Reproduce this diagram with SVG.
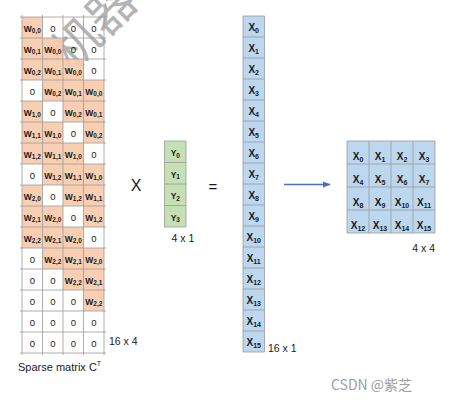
<svg xmlns="http://www.w3.org/2000/svg" width="456" height="405" viewBox="0 0 456 405">
<style>
text{font-family:"Liberation Sans",Arial,sans-serif;fill:#1a1a1a}
.o{fill:#F8CBAD}
.b{fill:#BDD7EE}
.g{fill:#C5E0B4}
.ln{stroke:#9a9a9a;stroke-width:0.8;fill:none}
.w{font-size:8.5px;font-weight:bold;text-anchor:middle}
.z{font-size:9.5px;text-anchor:middle}
.s{font-size:6.5px}
.x{font-size:10px;font-weight:bold;text-anchor:middle}
.xs{font-size:7px}
.lb{font-size:10.5px}
</style>
<rect width="456" height="405" fill="#ffffff"/>
<g id="watermark-top">
<text x="72" y="72" transform="rotate(-45 72 72)" style="font-family:'Noto Sans CJK SC',sans-serif;font-size:48px;fill:#b4b4b4">机器</text>
</g>
<g id="matrix">
<g id="matrix-fill" opacity="0.92">
<rect class="o" x="22" y="17" width="20.5" height="21"/>
<rect class="o" x="22" y="38" width="41" height="21"/>
<rect class="o" x="22" y="59" width="61.5" height="21"/>
<rect class="o" x="42.5" y="80" width="61.5" height="21"/>
<rect class="o" x="22" y="101" width="20.5" height="21"/><rect class="o" x="63" y="101" width="41" height="21"/>
<rect class="o" x="22" y="122" width="41" height="21"/><rect class="o" x="83.5" y="122" width="20.5" height="21"/>
<rect class="o" x="22" y="143" width="61.5" height="21"/>
<rect class="o" x="42.5" y="164" width="61.5" height="21"/>
<rect class="o" x="22" y="185" width="20.5" height="21"/><rect class="o" x="63" y="185" width="41" height="21"/>
<rect class="o" x="22" y="206" width="41" height="21"/><rect class="o" x="83.5" y="206" width="20.5" height="21"/>
<rect class="o" x="22" y="227" width="61.5" height="21"/>
<rect class="o" x="42.5" y="248" width="61.5" height="21"/>
<rect class="o" x="63" y="269" width="41" height="21"/>
<rect class="o" x="83.5" y="290" width="20.5" height="21"/>
</g>
<path class="ln" d="M22 15V355M42.5 15V355M63 15V355M83.5 15V355M104 15V355M20 17H106M20 38H106M20 59H106M20 80H106M20 101H106M20 122H106M20 143H106M20 164H106M20 185H106M20 206H106M20 227H106M20 248H106M20 269H106M20 290H106M20 311H106M20 332H106M20 353H106"/>
<g id="matrix-text">
<text class="w" x="32.3" y="31.5">W<tspan class="s" dy="1.5">0,0</tspan></text><text class="z" x="52.8" y="32">0</text><text class="z" x="73.3" y="32">0</text><text class="z" x="93.8" y="32">0</text>
<text class="w" x="32.3" y="52.5">W<tspan class="s" dy="1.5">0,1</tspan></text><text class="w" x="52.8" y="52.5">W<tspan class="s" dy="1.5">0,0</tspan></text><text class="z" x="73.3" y="53">0</text><text class="z" x="93.8" y="53">0</text>
<text class="w" x="32.3" y="73.5">W<tspan class="s" dy="1.5">0,2</tspan></text><text class="w" x="52.8" y="73.5">W<tspan class="s" dy="1.5">0,1</tspan></text><text class="w" x="73.3" y="73.5">W<tspan class="s" dy="1.5">0,0</tspan></text><text class="z" x="93.8" y="74">0</text>
<text class="z" x="32.3" y="95">0</text><text class="w" x="52.8" y="94.5">W<tspan class="s" dy="1.5">0,2</tspan></text><text class="w" x="73.3" y="94.5">W<tspan class="s" dy="1.5">0,1</tspan></text><text class="w" x="93.8" y="94.5">W<tspan class="s" dy="1.5">0,0</tspan></text>
<text class="w" x="32.3" y="115.5">W<tspan class="s" dy="1.5">1,0</tspan></text><text class="z" x="52.8" y="116">0</text><text class="w" x="73.3" y="115.5">W<tspan class="s" dy="1.5">0,2</tspan></text><text class="w" x="93.8" y="115.5">W<tspan class="s" dy="1.5">0,1</tspan></text>
<text class="w" x="32.3" y="136.5">W<tspan class="s" dy="1.5">1,1</tspan></text><text class="w" x="52.8" y="136.5">W<tspan class="s" dy="1.5">1,0</tspan></text><text class="z" x="73.3" y="137">0</text><text class="w" x="93.8" y="136.5">W<tspan class="s" dy="1.5">0,2</tspan></text>
<text class="w" x="32.3" y="157.5">W<tspan class="s" dy="1.5">1,2</tspan></text><text class="w" x="52.8" y="157.5">W<tspan class="s" dy="1.5">1,1</tspan></text><text class="w" x="73.3" y="157.5">W<tspan class="s" dy="1.5">1,0</tspan></text><text class="z" x="93.8" y="158">0</text>
<text class="z" x="32.3" y="179">0</text><text class="w" x="52.8" y="178.5">W<tspan class="s" dy="1.5">1,2</tspan></text><text class="w" x="73.3" y="178.5">W<tspan class="s" dy="1.5">1,1</tspan></text><text class="w" x="93.8" y="178.5">W<tspan class="s" dy="1.5">1,0</tspan></text>
<text class="w" x="32.3" y="199.5">W<tspan class="s" dy="1.5">2,0</tspan></text><text class="z" x="52.8" y="200">0</text><text class="w" x="73.3" y="199.5">W<tspan class="s" dy="1.5">1,2</tspan></text><text class="w" x="93.8" y="199.5">W<tspan class="s" dy="1.5">1,1</tspan></text>
<text class="w" x="32.3" y="220.5">W<tspan class="s" dy="1.5">2,1</tspan></text><text class="w" x="52.8" y="220.5">W<tspan class="s" dy="1.5">2,0</tspan></text><text class="z" x="73.3" y="221">0</text><text class="w" x="93.8" y="220.5">W<tspan class="s" dy="1.5">1,2</tspan></text>
<text class="w" x="32.3" y="241.5">W<tspan class="s" dy="1.5">2,2</tspan></text><text class="w" x="52.8" y="241.5">W<tspan class="s" dy="1.5">2,1</tspan></text><text class="w" x="73.3" y="241.5">W<tspan class="s" dy="1.5">2,0</tspan></text><text class="z" x="93.8" y="242">0</text>
<text class="z" x="32.3" y="263">0</text><text class="w" x="52.8" y="262.5">W<tspan class="s" dy="1.5">2,2</tspan></text><text class="w" x="73.3" y="262.5">W<tspan class="s" dy="1.5">2,1</tspan></text><text class="w" x="93.8" y="262.5">W<tspan class="s" dy="1.5">2,0</tspan></text>
<text class="z" x="32.3" y="284">0</text><text class="z" x="52.8" y="284">0</text><text class="w" x="73.3" y="283.5">W<tspan class="s" dy="1.5">2,2</tspan></text><text class="w" x="93.8" y="283.5">W<tspan class="s" dy="1.5">2,1</tspan></text>
<text class="z" x="32.3" y="305">0</text><text class="z" x="52.8" y="305">0</text><text class="z" x="73.3" y="305">0</text><text class="w" x="93.8" y="304.5">W<tspan class="s" dy="1.5">2,2</tspan></text>
<text class="z" x="32.3" y="326">0</text><text class="z" x="52.8" y="326">0</text><text class="z" x="73.3" y="326">0</text><text class="z" x="93.8" y="326">0</text>
<text class="z" x="32.3" y="347">0</text><text class="z" x="52.8" y="347">0</text><text class="z" x="73.3" y="347">0</text><text class="z" x="93.8" y="347">0</text>
</g>
<text class="lb" x="109" y="345">16 x 4</text>
<text x="18" y="371" style="font-size:11px">Sparse matrix C<tspan style="font-size:7px" dy="-5">T</tspan></text>
</g>
<g id="times"><text x="136" y="191" style="font-size:16px;text-anchor:middle">X</text></g>
<g id="y-vector">
<rect class="g" x="164.5" y="141" width="21.5" height="86"/>
<path class="ln" d="M164.5 141V227M186 141V227M164.5 141H186M164.5 162.5H186M164.5 184H186M164.5 205.5H186M164.5 227H186"/>
<text class="x" x="175.3" y="156" style="font-size:8.5px">Y<tspan class="s" dy="1.5">0</tspan></text>
<text class="x" x="175.3" y="177.5" style="font-size:8.5px">Y<tspan class="s" dy="1.5">1</tspan></text>
<text class="x" x="175.3" y="199" style="font-size:8.5px">Y<tspan class="s" dy="1.5">2</tspan></text>
<text class="x" x="175.3" y="220.5" style="font-size:8.5px">Y<tspan class="s" dy="1.5">3</tspan></text>
<text class="lb" x="183" y="242" style="text-anchor:middle">4 x 1</text>
</g>
<g id="equals"><text x="213" y="192" style="font-size:15px;text-anchor:middle">=</text></g>
<g id="x-vector">
<rect class="b" x="243" y="16" width="21.5" height="336"/>
<path class="ln" d="M243 16V352M264.5 16V352M243 16H264.5M243 37H264.5M243 58H264.5M243 79H264.5M243 100H264.5M243 121H264.5M243 142H264.5M243 163H264.5M243 184H264.5M243 205H264.5M243 226H264.5M243 247H264.5M243 268H264.5M243 289H264.5M243 310H264.5M243 331H264.5M243 352H264.5"/>
<text class="x" x="253.7" y="31">X<tspan class="xs" dy="1.5">0</tspan></text>
<text class="x" x="253.7" y="52">X<tspan class="xs" dy="1.5">1</tspan></text>
<text class="x" x="253.7" y="73">X<tspan class="xs" dy="1.5">2</tspan></text>
<text class="x" x="253.7" y="94">X<tspan class="xs" dy="1.5">3</tspan></text>
<text class="x" x="253.7" y="115">X<tspan class="xs" dy="1.5">4</tspan></text>
<text class="x" x="253.7" y="136">X<tspan class="xs" dy="1.5">5</tspan></text>
<text class="x" x="253.7" y="157">X<tspan class="xs" dy="1.5">6</tspan></text>
<text class="x" x="253.7" y="178">X<tspan class="xs" dy="1.5">7</tspan></text>
<text class="x" x="253.7" y="199">X<tspan class="xs" dy="1.5">8</tspan></text>
<text class="x" x="253.7" y="220">X<tspan class="xs" dy="1.5">9</tspan></text>
<text class="x" x="253.7" y="241">X<tspan class="xs" dy="1.5">10</tspan></text>
<text class="x" x="253.7" y="262">X<tspan class="xs" dy="1.5">11</tspan></text>
<text class="x" x="253.7" y="283">X<tspan class="xs" dy="1.5">12</tspan></text>
<text class="x" x="253.7" y="304">X<tspan class="xs" dy="1.5">13</tspan></text>
<text class="x" x="253.7" y="325">X<tspan class="xs" dy="1.5">14</tspan></text>
<text class="x" x="253.7" y="346">X<tspan class="xs" dy="1.5">15</tspan></text>
<text class="lb" x="268" y="352">16 x 1</text>
</g>
<g id="connectors">
<defs><marker id="ah" viewBox="0 0 10 10" refX="9" refY="5" markerWidth="5" markerHeight="5" orient="auto"><path d="M0 1L10 5L0 9z" fill="#4472C4"/></marker></defs>
<line x1="284" y1="184.5" x2="330" y2="184.5" stroke="#4472C4" stroke-width="1.6" marker-end="url(#ah)"/>
</g>
<g id="grid4x4">
<rect class="b" x="347" y="141" width="88" height="92"/>
<path class="ln" d="M347 141V233M369 141V233M391 141V233M413 141V233M435 141V233M347 141H435M347 164H435M347 187H435M347 210H435M347 233H435"/>
<text class="x" x="358" y="160">X<tspan class="xs" dy="1.5">0</tspan></text><text class="x" x="380" y="160">X<tspan class="xs" dy="1.5">1</tspan></text><text class="x" x="402" y="160">X<tspan class="xs" dy="1.5">2</tspan></text><text class="x" x="424" y="160">X<tspan class="xs" dy="1.5">3</tspan></text>
<text class="x" x="358" y="183">X<tspan class="xs" dy="1.5">4</tspan></text><text class="x" x="380" y="183">X<tspan class="xs" dy="1.5">5</tspan></text><text class="x" x="402" y="183">X<tspan class="xs" dy="1.5">6</tspan></text><text class="x" x="424" y="183">X<tspan class="xs" dy="1.5">7</tspan></text>
<text class="x" x="358" y="206">X<tspan class="xs" dy="1.5">8</tspan></text><text class="x" x="380" y="206">X<tspan class="xs" dy="1.5">9</tspan></text><text class="x" x="402" y="206">X<tspan class="xs" dy="1.5">10</tspan></text><text class="x" x="424" y="206">X<tspan class="xs" dy="1.5">11</tspan></text>
<text class="x" x="358" y="229">X<tspan class="xs" dy="1.5">12</tspan></text><text class="x" x="380" y="229">X<tspan class="xs" dy="1.5">13</tspan></text><text class="x" x="402" y="229">X<tspan class="xs" dy="1.5">14</tspan></text><text class="x" x="424" y="229">X<tspan class="xs" dy="1.5">15</tspan></text>
<text class="lb" x="435" y="252" style="text-anchor:end">4 x 4</text>
</g>
<g id="watermark-bottom">
<text x="331" y="390" style="font-family:'Noto Sans CJK SC',sans-serif;font-size:14px;fill:#a0a0a0">CSDN @紫芝</text>
</g>
</svg>
